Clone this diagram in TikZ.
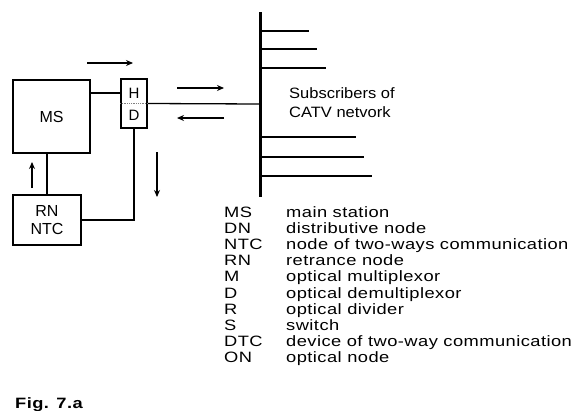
\documentclass[tikz,border=0pt]{standalone}
\usepackage{fontspec}
\setmainfont{Liberation Sans}
\newfontfamily\lgdfont[FakeStretch=1.22, LetterSpace=3]{Liberation Sans}
\newfontfamily\subfont[FakeStretch=1.1]{Liberation Sans}
\usetikzlibrary{arrows.meta}

\begin{document}
\begin{tikzpicture}[x=1pt, y=-1pt, >={Stealth[length=7pt, width=6pt]},
  box/.style={draw, line width=2.2pt, align=center, font=\fontsize{16}{17}\selectfont, inner sep=0pt},
  wire/.style={line width=1.3pt},
  flow/.style={line width=1.3pt, ->},
  txt/.style={font=\lgdfont\fontsize{15}{16}\selectfont, anchor=base west, inner sep=0pt}]
\useasboundingbox (0,0) rectangle (581,410);
% station and return node
\node[box, minimum width=77, minimum height=73] (ms) at (51.5,116.5) {MS};
\node[box, minimum width=68, minimum height=50, font=\fontsize{16}{17.5}\selectfont] (rn) at (47,220) {RN\\NTC};
% H/D box
\node[box, line width=2pt, minimum width=26, minimum height=49] (hd) at (134,103.5) {};
\node[font=\fontsize{15}{16}\selectfont, inner sep=0pt] (h) at (134,93) {H};
\node[font=\fontsize{15}{16}\selectfont, inner sep=0pt] (d) at (134,115) {D};
\draw[gray, densely dotted, line width=0.8pt] (hd.west) -- (hd.east);
% bus
\coordinate (bt) at (260,12);
\coordinate (bb) at (260,197);
\coordinate (bj) at (260,104);
\draw[line width=3pt] (bt) -- (bb);
\foreach \y/\l in {31/49, 49/57, 68/66, 137/96, 157/104, 176/112}
  \draw[wire] (260,\y) -- ++(\l,0);
\node[txt, anchor=west, align=left, font=\subfont\fontsize{15}{19}\selectfont] (sub) at (289,102.5) {Subscribers of\\CATV netvork};
% links
\draw[wire] (ms.east |- h) -- (hd.west |- h);
\draw[wire] (hd.east) -- (bj);
\draw[wire] (rn.north) -- (rn.north |- ms.south);
\draw[wire] (rn.east) -| (hd.south);
% directions
\draw[flow] (87,63) -- (133,63);
\draw[flow] (177,88) -- (224,88);
\draw[flow] (224,118) -- (177,118);
\draw[flow] (157,152) -- (157,197);
\draw[flow] (32,188) -- (32,162);
% legend
\foreach \a/\b [count=\i] in {MS/main station, DN/distributive node,
    NTC/node of two-ways communication, RN/retrance node, M/optical multiplexor,
    D/optical demultiplexor, R/optical divider, S/switch,
    DTC/device of two-way communication, ON/optical node} {
  \node[txt] (a\i) at (224,{217.5+16.1*(\i-1)}) {\a};
  \node[txt] (b\i) at (286,{217.5+16.1*(\i-1)}) {\b};
}
\node[txt, font=\lgdfont\bfseries\fontsize{15}{16}\selectfont] (fig) at (15,408) {Fig. 7.a};
\end{tikzpicture}
\end{document}
